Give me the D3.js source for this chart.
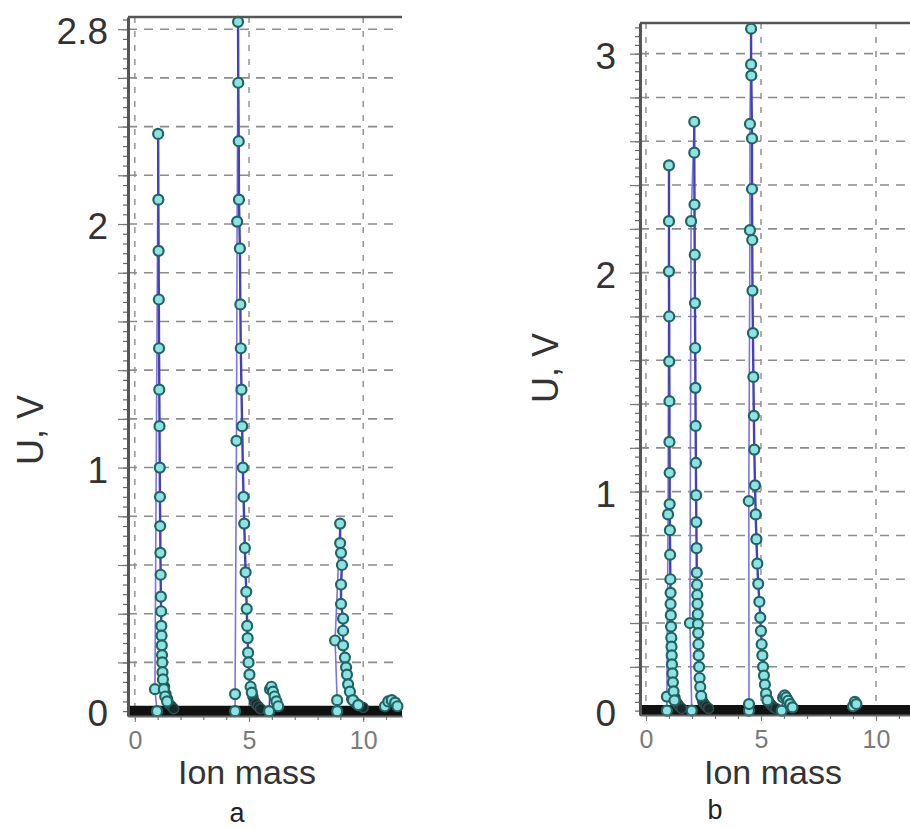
<!DOCTYPE html>
<html><head><meta charset="utf-8">
<script src="https://cdn.jsdelivr.net/npm/d3@7"></script>
<style>body{margin:0;background:#fff}svg{display:block}text{font-family:"Liberation Sans",Arial,sans-serif}</style>
</head><body><svg id="c" width="910" height="829"></svg>
<script>
// ---------- data ----------
const panelLabels = ["a", "b"];
const xTickValues = [0, 5, 10];
const xTickLabels = ["0", "5", "10"];
const yTickValuesA = [0, 1, 2, 2.8];
const yTickLabelsA = ["0", "1", "2", "2.8"];
const yTickValuesB = [0, 1, 2, 3];
const yTickLabelsB = ["0", "1", "2", "3"];
const xTitle = "Ion mass";
const yTitle = "U, V";

// panel a, peak 1
const riseA1 = [[0.97, 0], [0.88, 0.09]];
const fallA1 = [[1.02, 2.37], [1.03, 2.10], [1.04, 1.89], [1.05, 1.69], [1.06, 1.49], [1.07, 1.32], [1.08, 1.17], [1.09, 1.00], [1.10, 0.88], [1.11, 0.76], [1.12, 0.65], [1.13, 0.56], [1.14, 0.47], [1.15, 0.41], [1.16, 0.35], [1.17, 0.31], [1.18, 0.27], [1.19, 0.23], [1.20, 0.20], [1.21, 0.16], [1.23, 0.13], [1.27, 0.09], [1.33, 0.06], [1.41, 0.04]];
const tailA1 = [[1.30, 0.10], [1.36, 0.07], [1.43, 0.05], [1.50, 0.03], [1.60, 0.02], [1.70, 0.01]];
// panel a, peak 2
const riseA2 = [[4.39, 0], [4.39, 0.07], [4.45, 1.11], [4.48, 2.01]];
const fallA2 = [[4.52, 2.83], [4.53, 2.58], [4.55, 2.34], [4.56, 2.10], [4.60, 1.90], [4.62, 1.67], [4.64, 1.49], [4.67, 1.32], [4.70, 1.17], [4.73, 1.00], [4.76, 0.88], [4.79, 0.77], [4.82, 0.67], [4.85, 0.57], [4.88, 0.49], [4.90, 0.42], [4.92, 0.35], [4.94, 0.30], [4.96, 0.24], [4.98, 0.20], [5.02, 0.15], [5.07, 0.10], [5.12, 0.076]];
const tailA2 = [[5.12, 0.08], [5.17, 0.06], [5.23, 0.04], [5.30, 0.03], [5.40, 0.02], [5.50, 0.01]];
const bumpA2 = [[5.88, 0.0], [5.92, 0.09], [5.98, 0.10], [6.05, 0.08], [6.12, 0.06], [6.20, 0.04], [6.28, 0.02]];
// panel a, peak 3
const riseA3 = [[8.86, 0], [8.86, 0.045], [8.77, 0.29]];
const fallA3 = [[8.99, 0.77], [8.99, 0.69], [9.03, 0.65], [9.07, 0.60], [9.03, 0.52], [9.03, 0.44], [9.12, 0.38], [9.12, 0.33], [9.12, 0.27], [9.20, 0.22], [9.25, 0.18], [9.29, 0.15], [9.34, 0.11], [9.42, 0.08], [9.55, 0.045], [9.78, 0.025]];
const tailA3 = [[9.50, 0.05], [9.65, 0.035], [9.80, 0.025], [10.0, 0.015]];
const bumpA3 = [[10.95, 0.02], [11.10, 0.04], [11.25, 0.045], [11.40, 0.035], [11.50, 0.02]];

// panel b, peak 1
const riseB1 = [[0.91, 0], [0.91, 0.064], [0.96, 0.896]];
const fallB1 = [[1.00, 2.49], [1.00, 2.235], [1.00, 2.006], [1.01, 1.80], [1.01, 1.595], [1.02, 1.413], [1.02, 1.227], [1.03, 1.086], [1.03, 0.943], [1.04, 0.824], [1.05, 0.712], [1.06, 0.600], [1.07, 0.538], [1.07, 0.487], [1.08, 0.436], [1.09, 0.384], [1.10, 0.333], [1.11, 0.292], [1.12, 0.252], [1.13, 0.211], [1.15, 0.170], [1.17, 0.129], [1.20, 0.088], [1.24, 0.047]];
const tailB1 = [[1.26, 0.06], [1.31, 0.04], [1.38, 0.03], [1.45, 0.02], [1.55, 0.01]];
// panel b, peak 2
const riseB2 = [[1.99, 0], [1.91, 0.40], [1.96, 2.235]];
const fallB2 = [[2.10, 2.689], [2.10, 2.548], [2.11, 2.311], [2.12, 2.082], [2.13, 1.861], [2.14, 1.656], [2.15, 1.474], [2.16, 1.300], [2.17, 1.131], [2.18, 0.984], [2.19, 0.861], [2.20, 0.742], [2.21, 0.630], [2.22, 0.575], [2.23, 0.528], [2.24, 0.487], [2.25, 0.44], [2.26, 0.395], [2.27, 0.354], [2.28, 0.303], [2.29, 0.252], [2.31, 0.200], [2.33, 0.149], [2.36, 0.108], [2.40, 0.067]];
const tailB2 = [[2.42, 0.06], [2.47, 0.04], [2.54, 0.03], [2.62, 0.02], [2.72, 0.01]];
// panel b, peak 3
const riseB3 = [[4.48, 0], [4.48, 0.03], [4.47, 0.957], [4.52, 2.194], [4.52, 2.679]];
const fallB3 = [[4.57, 3.114], [4.57, 2.951], [4.58, 2.90], [4.61, 2.613], [4.61, 2.382], [4.62, 2.149], [4.63, 1.918], [4.65, 1.724], [4.67, 1.524], [4.69, 1.346], [4.71, 1.192], [4.74, 1.029], [4.77, 0.896], [4.80, 0.783], [4.84, 0.671], [4.88, 0.579], [4.93, 0.497], [4.97, 0.425], [5.00, 0.364], [5.03, 0.303], [5.06, 0.252], [5.09, 0.200], [5.13, 0.160], [5.17, 0.119], [5.22, 0.078], [5.28, 0.047]];
const tailB3 = [[5.30, 0.05], [5.38, 0.035], [5.45, 0.025], [5.55, 0.015], [5.65, 0.01]];
const bumpB3 = [[5.90, 0.0], [5.96, 0.06], [6.03, 0.07], [6.10, 0.06], [6.18, 0.045], [6.27, 0.03], [6.37, 0.015]];
const bumpB4 = [[9.00, 0.02], [9.08, 0.04], [9.15, 0.03]];

// ---------- drawing ----------
const svg = d3.select("#c");
const FONT = '"Liberation Sans", Arial, sans-serif';

function panel(cfg) {
  const x = d3.scaleLinear().domain(cfg.xDom).range([cfg.left, cfg.right]);
  const y = d3.scaleLinear().domain(cfg.yDom).range([cfg.bottom, cfg.top]);
  const g = svg.append("g");

  g.selectAll(null).data(cfg.grid).join("line")
    .attr("x1", cfg.left).attr("x2", cfg.gridEnd)
    .attr("y1", d => y(d)).attr("y2", d => y(d))
    .attr("stroke", "#8c8c8c").attr("stroke-width", 1.6).attr("stroke-dasharray", "9,7");
  g.selectAll(null).data(xTickValues).join("line")
    .attr("x1", d => x(d)).attr("x2", d => x(d))
    .attr("y1", cfg.top).attr("y2", cfg.bottom)
    .attr("stroke", "#8c8c8c").attr("stroke-width", 1.4).attr("stroke-dasharray", "6,8");

  g.append("line")
    .attr("x1", x(cfg.xDom[0])).attr("x2", x(cfg.xDom[1]))
    .attr("y1", y(0)).attr("y2", y(0))
    .attr("stroke", "#111").attr("stroke-width", 11);

  const line = d3.line().x(d => x(d[0])).y(d => y(d[1]));

  cfg.peaks.forEach(p => {
    g.append("path").datum(p.rise.concat([p.fall[0]]))
      .attr("d", line).attr("fill", "none")
      .attr("stroke", "#7d76d8").attr("stroke-width", 1.6);
    g.append("path").datum(p.fall)
      .attr("d", line).attr("fill", "none")
      .attr("stroke", "#4540b6").attr("stroke-width", 2.4);
  });
  cfg.bumps.forEach(b => {
    g.append("path").datum(b).attr("d", line).attr("fill", "none")
      .attr("stroke", "#4540b6").attr("stroke-width", 1.6);
  });
  cfg.peaks.forEach(p => {
    g.selectAll(null).data(p.tail).join("circle")
      .attr("cx", d => x(d[0])).attr("cy", d => y(d[1])).attr("r", 5)
      .attr("fill", "#1a2a2a").attr("stroke", "#2b4f4f").attr("stroke-width", 1.5);
  });
  const pts = [];
  cfg.peaks.forEach(p => { pts.push(...p.rise, ...p.fall); });
  cfg.bumps.forEach(b => pts.push(...b));
  g.selectAll(null).data(pts).join("circle")
    .attr("cx", d => x(d[0])).attr("cy", d => y(d[1])).attr("r", 5)
    .attr("fill", "#8ce3e3").attr("stroke", "#226464").attr("stroke-width", 2.2);

  const yMinor = d3.range(0, cfg.yDom[1], 0.04);
  g.append("g").attr("transform", `translate(${cfg.left},0)`)
    .call(d3.axisLeft(y).tickValues(yMinor).tickFormat("").tickSize(5).tickSizeOuter(0))
    .call(a => a.select(".domain").remove())
    .call(a => a.selectAll("line").attr("stroke", "#666").attr("stroke-width", 1.2));
  g.append("g").attr("transform", `translate(${cfg.left},0)`)
    .call(d3.axisLeft(y).tickValues(cfg.grid).tickFormat("").tickSize(10).tickSizeOuter(0))
    .call(a => a.select(".domain").remove())
    .call(a => a.selectAll("line").attr("stroke", "#777").attr("stroke-width", 1.2));
  const yAx = g.append("g").attr("transform", `translate(${cfg.left},0)`)
    .call(d3.axisLeft(y).tickValues(cfg.yTicks).tickFormat((d, i) => cfg.yLabels[i])
      .tickSize(0).tickSizeOuter(0).tickPadding(cfg.yPad));
  yAx.select(".domain").attr("stroke", "#555").attr("stroke-width", 3);
  yAx.selectAll("text").attr("font-size", 37).attr("fill", "#333").attr("font-family", FONT)
    .attr("dy", "0.4em");

  const xMinor = d3.range(0, Math.floor(cfg.xDom[1]) + 1, 1);
  g.append("g").attr("transform", `translate(0,${cfg.bottom})`)
    .call(d3.axisBottom(x).tickValues(xMinor).tickFormat("").tickSize(4).tickSizeOuter(0))
    .call(a => a.select(".domain").remove())
    .call(a => a.selectAll("line").attr("stroke", "#777").attr("stroke-width", 1.2));
  const xAx = g.append("g").attr("transform", `translate(0,${cfg.bottom})`)
    .call(d3.axisBottom(x).tickValues(xTickValues).tickFormat((d, i) => xTickLabels[i])
      .tickSize(6).tickPadding(9).tickSizeOuter(0));
  xAx.select(".domain").attr("stroke", "#666").attr("stroke-width", 2);
  xAx.selectAll("line").attr("stroke", "#777");
  xAx.selectAll("text").attr("font-size", 25).attr("fill", "#7a7a7a").attr("font-family", FONT);

  g.append("line").attr("x1", cfg.left).attr("x2", cfg.right)
    .attr("y1", cfg.top).attr("y2", cfg.top)
    .attr("stroke", "#555").attr("stroke-width", 2.5);

  g.append("text").attr("transform", `translate(${cfg.yTitleX},${cfg.yTitleY}) rotate(-90)`)
    .attr("text-anchor", "middle").attr("dominant-baseline", "central")
    .attr("font-size", 36).attr("fill", "#333").text(yTitle);
  g.append("text").attr("x", cfg.xTitleX).attr("y", 772)
    .attr("text-anchor", "middle").attr("dominant-baseline", "central")
    .attr("font-size", 34).attr("fill", "#333").text(xTitle);
  g.append("text").attr("x", cfg.labelX).attr("y", cfg.labelY)
    .attr("text-anchor", "middle").attr("dominant-baseline", "central")
    .attr("font-size", 27).attr("fill", "#222").text(cfg.label);
}

panel({
  xDom: [-0.3, 11.7], yDom: [-0.02, 2.85],
  left: 128, right: 402, top: 17, bottom: 716, gridEnd: 398,
  grid: d3.range(1, 15).map(i => i / 5),
  yTicks: yTickValuesA, yLabels: yTickLabelsA, yPad: 20,
  peaks: [{rise: riseA1, fall: fallA1, tail: tailA1},
          {rise: riseA2, fall: fallA2, tail: tailA2},
          {rise: riseA3, fall: fallA3, tail: tailA3}],
  bumps: [bumpA2, bumpA3],
  yTitleX: 30, yTitleY: 430, xTitleX: 247, labelX: 237, labelY: 813, label: panelLabels[0]
});
panel({
  xDom: [-0.26, 11.74], yDom: [-0.02, 3.14],
  left: 640, right: 916, top: 23, bottom: 715, gridEnd: 916,
  grid: d3.range(1, 16).map(i => i / 5),
  yTicks: yTickValuesB, yLabels: yTickLabelsB, yPad: 24,
  peaks: [{rise: riseB1, fall: fallB1, tail: tailB1},
          {rise: riseB2, fall: fallB2, tail: tailB2},
          {rise: riseB3, fall: fallB3, tail: tailB3}],
  bumps: [bumpB3, bumpB4],
  yTitleX: 545, yTitleY: 368, xTitleX: 773, labelX: 715, labelY: 810, label: panelLabels[1]
});
</script></body></html>
